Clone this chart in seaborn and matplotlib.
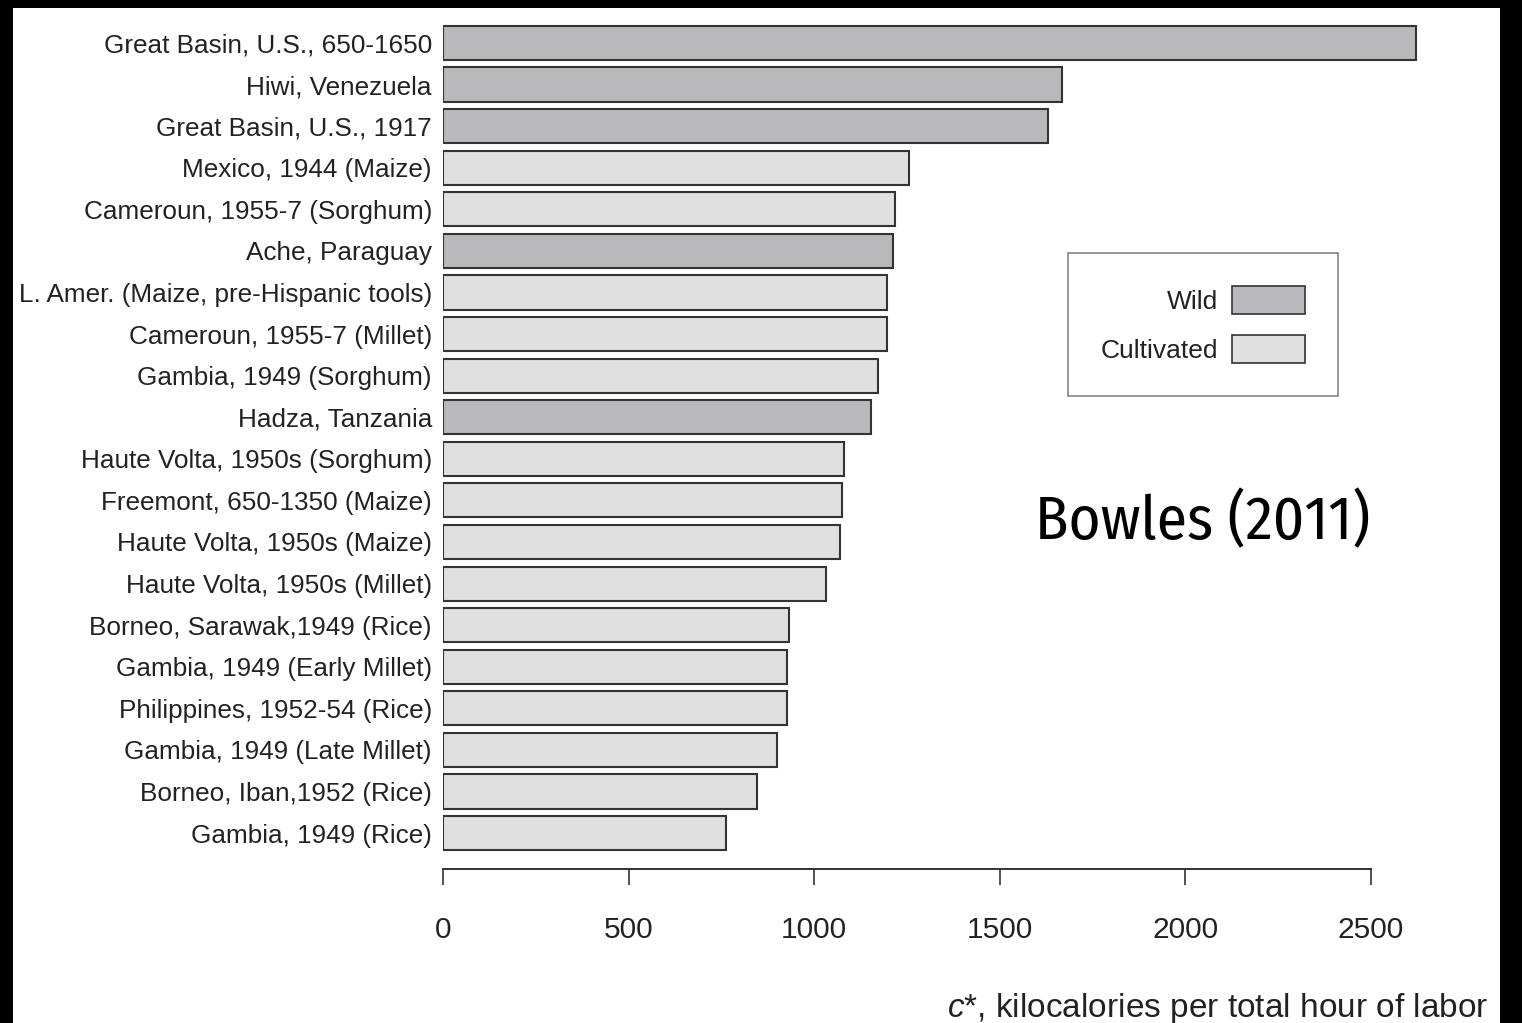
import matplotlib
matplotlib.use("Agg")
import matplotlib.pyplot as plt
from matplotlib.patches import Patch, Rectangle
import seaborn as sns
import pandas as pd

# data
sites = ["Great Basin, U.S., 650-1650", "Hiwi, Venezuela", "Great Basin, U.S., 1917",
         "Mexico, 1944 (Maize)", "Cameroun, 1955-7 (Sorghum)", "Ache, Paraguay",
         "L. Amer. (Maize, pre-Hispanic tools)", "Cameroun, 1955-7 (Millet)",
         "Gambia, 1949 (Sorghum)", "Hadza, Tanzania", "Haute Volta, 1950s (Sorghum)",
         "Freemont, 650-1350 (Maize)", "Haute Volta, 1950s (Maize)",
         "Haute Volta, 1950s (Millet)", "Borneo, Sarawak,1949 (Rice)",
         "Gambia, 1949 (Early Millet)", "Philippines, 1952-54 (Rice)",
         "Gambia, 1949 (Late Millet)", "Borneo, Iban,1952 (Rice)", "Gambia, 1949 (Rice)"]
kcal = [2621, 1668, 1630, 1255, 1218, 1212, 1196, 1196, 1172, 1153,
        1080, 1075, 1070, 1032, 932, 927, 927, 900, 846, 762]
source = ["Wild", "Wild", "Wild", "Cultivated", "Cultivated", "Wild", "Cultivated",
          "Cultivated", "Cultivated", "Wild", "Cultivated", "Cultivated", "Cultivated",
          "Cultivated", "Cultivated", "Cultivated", "Cultivated", "Cultivated",
          "Cultivated", "Cultivated"]
colors = {"Wild": "#b9b8bd", "Cultivated": "#e0e0e0"}

df = pd.DataFrame({"site": sites, "kcal": kcal, "source": source})

sns.set_style("white")
plt.rcParams["font.family"] = ["Liberation Sans", "DejaVu Sans"]
plt.rcParams["mathtext.fontset"] = "custom"
plt.rcParams["mathtext.it"] = "Liberation Sans:italic"
plt.rcParams["mathtext.rm"] = "Liberation Sans"

fig = plt.figure(figsize=(15.22, 10.23), dpi=100, facecolor="black")
# white page inside the black border
fig.patches.append(Rectangle((0.0085, 0.0), 0.977, 0.9922, transform=fig.transFigure,
                             facecolor="white", edgecolor="none", zorder=-1))
ax = fig.add_axes([0.2911, 0.1505, 0.6583, 0.8319])

sns.barplot(data=df, x="kcal", y="site", hue="source", palette=colors,
            dodge=False, width=0.82, edgecolor="#333333", linewidth=1.5,
            legend=False, ax=ax)

ax.set_xlim(0, 2700)
ax.set_ylim(19.865, -0.6)
ax.set_xticks([0, 500, 1000, 1500, 2000, 2500])
sns.despine(ax=ax, left=True)
ax.spines["bottom"].set_bounds(0, 2500)
ax.spines["bottom"].set_color("#333333")
ax.spines["bottom"].set_linewidth(1.4)
ax.tick_params(axis="x", length=11.5, width=1.2, color="#333333", pad=22,
               labelsize=21.5, labelcolor="#222222", bottom=True)
ax.tick_params(axis="y", length=0, pad=8, labelsize=18.8, labelcolor="#222222")
ax.set_ylabel("")

ax.set_xlabel(r"$c$*, kilocalories per total hour of labor", fontsize=24,
              color="#222222", ha="right")
ax.xaxis.set_label_coords(1.043, -0.143)

handles = [Patch(facecolor=colors[k], edgecolor="#333333", linewidth=1.2)
           for k in ["Wild", "Cultivated"]]
leg = ax.legend(handles, ["Wild", "Cultivated"], loc="upper left",
                bbox_to_anchor=(1068 / 1522, 1 - 253 / 1023),
                bbox_transform=fig.transFigure, markerfirst=False,
                fontsize=19, handlelength=2.77, handleheight=1.25,
                handletextpad=0.5, labelspacing=0.8, borderpad=1.25,
                borderaxespad=0, fancybox=False, frameon=True)
leg.get_frame().set_edgecolor("#666666")
leg.get_frame().set_linewidth(1.2)
for t in leg.get_texts():
    t.set_color("#222222")

fig.text(1203 / 1522, 1 - 522 / 1023, "Bowles (2011)", fontsize=44,
         family=["Fira Sans Condensed", "Roboto Condensed", "DejaVu Sans"],
         fontweight="normal", ha="center", va="center", color="black")

fig.savefig("out.png", dpi=100, facecolor=fig.get_facecolor())
